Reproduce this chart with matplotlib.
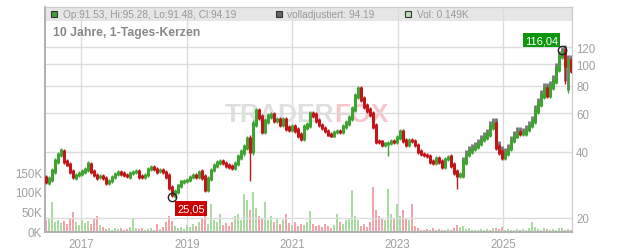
import numpy as np
import pandas as pd
import matplotlib
matplotlib.use("Agg")
import matplotlib.pyplot as plt
import matplotlib.dates as mdates
from matplotlib.patches import Rectangle
from matplotlib.ticker import NullLocator

plt.rcParams['font.family'] = ['Liberation Sans', 'DejaVu Sans']

# Schlusskurse (ca. alle 3 Wochen)
closes = [
    29.2, 30.1, 32.7, 36.3, 39.1, 40.3, 36.3, 35.2, 32.7, 30.7,
    31.4, 32.0, 32.7, 33.4, 35.2, 32.7, 31.4, 30.7, 31.0, 30.4,
    28.9, 29.5, 30.7, 31.7, 32.4, 32.0, 31.4, 31.0, 32.0, 32.4,
    32.7, 31.0, 30.7, 31.4, 33.4, 34.1, 33.4, 32.7, 33.1, 32.4,
    31.0, 27.7, 25.5, 26.3, 28.0, 29.2, 29.5, 29.8, 30.7, 31.4,
    31.0, 32.4, 30.7, 27.1, 30.1, 33.1, 34.8, 35.9, 36.3, 35.6,
    34.8, 34.4, 34.1, 35.6, 37.9, 39.9, 42.1, 45.8, 40.3, 53.6,
    61.4, 57.7, 49.8, 55.3, 58.3, 58.9, 55.9, 55.9, 53.6, 55.9,
    51.4, 50.8, 52.0, 50.3, 47.7, 46.3, 52.0, 53.0, 59.5, 58.9,
    55.9, 53.0, 51.4, 49.8, 48.2, 47.7, 49.3, 49.8, 49.3, 52.5,
    54.2, 57.1, 62.7, 71.9, 77.3, 69.6, 64.7, 62.1, 59.5, 52.5,
    44.8, 44.4, 43.0, 43.5, 43.9, 44.8, 44.4, 46.7, 49.3, 45.3,
    43.0, 45.3, 44.8, 43.0, 40.3, 39.1, 38.7, 38.3, 36.3, 35.9,
    37.5, 36.3, 34.4, 37.1, 37.9, 34.8, 32.4, 31.4, 31.4, 35.9,
    38.7, 40.3, 41.2, 42.1, 43.5, 45.3, 46.7, 48.2, 52.0, 53.6,
    42.1, 39.9, 37.9, 39.1, 41.2, 44.8, 47.2, 49.3, 48.7, 48.7,
    50.3, 52.5, 55.3, 61.4, 66.1, 71.9, 77.3, 72.6, 79.0, 84.1,
    95.4, 108.6, 115.2, 99.4, 103.7, 94.2,
]
first_open = 30.5

# Schwankungsbreite je Kerze in Prozent
spread = [
    5, 6, 6, 6, 5, 6, 5, 5, 5, 4,
    5, 4, 5, 5, 6, 5, 4, 5, 4, 5,
    5, 4, 5, 4, 4, 5, 4, 4, 5, 4,
    4, 5, 4, 4, 5, 4, 4, 5, 4, 4,
    5, 6, 5, 6, 5, 5, 4, 5, 5, 4,
    5, 5, 6, 6, 6, 5, 5, 5, 5, 5,
    5, 5, 5, 5, 6, 6, 7, 7, 8, 8,
    7, 7, 7, 6, 6, 6, 6, 6, 6, 6,
    6, 6, 6, 6, 6, 6, 6, 6, 6, 6,
    6, 5, 5, 5, 5, 5, 5, 5, 5, 5,
    6, 6, 7, 7, 7, 7, 6, 6, 6, 7,
    6, 5, 5, 5, 5, 5, 5, 5, 6, 6,
    5, 5, 5, 5, 5, 5, 5, 5, 5, 5,
    5, 5, 5, 5, 5, 6, 6, 6, 7, 6,
    5, 5, 5, 5, 5, 5, 5, 5, 6, 7,
    6, 6, 6, 6, 5, 5, 5, 5, 5, 5,
    5, 5, 5, 6, 6, 6, 6, 6, 6, 6,
    6, 6, 5, 7, 7, 6,
]

# Ausreisser nach unten (Index, Tief)
spike_idx = [42, 68, 114, 137, 173, 174]
spike_low = [25.05, 29.5, 38.3, 27.1, 81.5, 74.5]
peak_idx = 172
peak_high = 116.04
low_idx = 42
low_value = 25.05

# volladjustiert (grau) ab 2024 leicht darueber
adj_start = 139
adj_factor = 1.03

# Volumen in Tausend
volume_k = [
    30, 35, 76, 25, 30, 22, 28, 20, 32, 50, 25, 18,
    30, 22, 28, 20, 35, 40, 18, 12, 8, 10, 6, 9,
    7, 10, 6, 8, 12, 32, 10, 7, 9, 6, 8, 10,
    6, 20, 8, 12, 25, 40, 28, 15, 10, 12, 8, 18,
    12, 20, 15, 25, 32, 70, 20, 70, 30, 25, 45, 18,
    22, 15, 25, 40, 45, 30, 95, 80, 55, 100, 60, 40,
    35, 75, 30, 40, 25, 35, 20, 30, 45, 22, 18, 25,
    15, 20, 18, 25, 52, 20, 15, 18, 12, 20, 15, 10,
    18, 45, 25, 20, 30, 35, 106, 40, 30, 15, 20, 12,
    25, 112, 55, 40, 35, 30, 107, 45, 35, 70, 40, 55,
    35, 30, 70, 15, 10, 6, 5, 8, 6, 10, 5, 7,
    6, 5, 8, 6, 10, 18, 12, 15, 8, 10, 6, 5,
    6, 8, 5, 7, 6, 9, 10, 8, 12, 6, 8, 5,
    6, 8, 5, 7, 6, 10, 25, 12, 8, 6, 10, 7,
    6, 8, 5, 9, 10, 6, 7, 5,
]

years = [2017, 2019, 2021, 2023, 2025]
price_ticks = [20, 40, 60, 80, 100, 120]
vol_ticks = [0, 50, 100, 150]

dates = pd.date_range('2016-04-30', '2026-04-17', periods=len(closes))
c = np.array(closes)
o = np.array([first_open] + closes[:-1])
up = c >= o
top = np.maximum(o, c)
bot = np.minimum(o, c)
sp = np.array(spread) / 200.0
hi = top * (1 + sp)
lo = bot * (1 - sp)
for i, v in zip(spike_idx, spike_low):
    lo[i] = v
hi[peak_idx] = peak_high

green = '#3fa332'
red = '#c0161c'
col = np.where(up, green, red)
vcol = np.where(up, '#a9dba3', '#f2a3ab')

W, H = 632, 253
L, R, T, B = 45, 572, 8, 233
fig = plt.figure(figsize=(W / 100, H / 100), dpi=100)
ax = fig.add_axes([L / W, (H - B) / H, (R - L) / W, (B - T) / H])


def px(x, y):
    return (x - L) / (R - L), (B - y) / (B - T)


# Kopfzeile
ax.add_patch(Rectangle((0, px(0, 22)[1]), 1, 1 - px(0, 22)[1], transform=ax.transAxes,
                       facecolor='#e6e6e6', edgecolor='none', zorder=0))

# Volumen
ax.bar(dates, volume_k, width=19, color=vcol, zorder=2)
ax.set_ylim(0, (B - T) / 20 * 50)
ax.set_yticks(vol_ticks)
ax.set_yticklabels([f'{v}K' for v in vol_ticks])
ax.set_xlim(pd.Timestamp('2016-04-23'), pd.Timestamp('2026-04-24'))
ax.set_xticks([pd.Timestamp(f'{y}-01-01') for y in years])
ax.xaxis.set_major_formatter(mdates.DateFormatter('%Y'))
ax.grid(axis='x', color='#dcdcdc', lw=1)
ax.set_axisbelow(True)
ax.tick_params(axis='both', length=0, labelsize=8.3, labelcolor='#a0a0a0')
ax.tick_params(axis='x', pad=4)
ax.tick_params(axis='y', pad=2)

# Kurs
ax2 = ax.twinx()
ax2.set_yscale('log')
ax2.set_ylim(17.27, 182.6)
ax2.set_yticks(price_ticks)
ax2.set_yticklabels([str(v) for v in price_ticks])
ax2.yaxis.set_minor_locator(NullLocator())
ax2.grid(axis='y', color='#dcdcdc', lw=1)
ax2.tick_params(axis='y', length=0, labelsize=8.3, labelcolor='#a0a0a0', pad=3)

# Wasserzeichen
wx, wy = px(334, 115)
ax2.text(wx, wy, 'TRADER', transform=ax2.transAxes, ha='right', va='center',
         fontsize=19, fontweight='bold', color='#dfdfdf', zorder=0)
ax2.text(wx, wy, 'FOX', transform=ax2.transAxes, ha='left', va='center',
         fontsize=19, fontweight='bold', color='#f6c6cb', zorder=0)

# volladjustiert
ax2.vlines(dates[adj_start:], lo[adj_start:] * adj_factor, hi[adj_start:] * adj_factor,
           color='#777777', lw=2.0, zorder=2)
# Kerzen
ax2.vlines(dates, lo, hi, color=col, lw=1.0, zorder=3)
ax2.vlines(dates, bot * (1 - sp * 0.6), top * (1 + sp * 0.6), color=col, lw=2.2, zorder=3)

# Hoch / Tief
ax2.plot(dates[peak_idx], peak_high, 'o', ms=6, mfc='none', mec='#222222', mew=1, zorder=5)
ax2.plot(dates[low_idx], low_value, 'o', ms=6, mfc='none', mec='#222222', mew=1, zorder=5)
ax2.annotate('116,04', xy=(dates[peak_idx], peak_high), xytext=(-4, 5), textcoords='offset pixels',
             ha='right', va='bottom', fontsize=8, color='white', zorder=6,
             bbox=dict(boxstyle='square,pad=0.2', fc='#0b960b', ec='none'))
ax2.annotate('25,05', xy=(dates[low_idx], low_value), xytext=(5, -7), textcoords='offset pixels',
             ha='left', va='top', fontsize=8, color='white', zorder=6,
             bbox=dict(boxstyle='square,pad=0.2', fc='#cc0000', ec='none'))

for a in (ax, ax2):
    for s in ('top', 'right'):
        a.spines[s].set_color('#cccccc')
    for s in ('left', 'bottom'):
        a.spines[s].set_color('#b0b0b0')
        a.spines[s].set_linewidth(1.2)

# Legende / Titel
def square(x, y, fc, ec):
    ax2.add_patch(Rectangle(px(x, y + 6), 6 / (R - L), 6 / (B - T), transform=ax2.transAxes,
                            facecolor=fc, edgecolor=ec, lw=0.8, zorder=6))


square(51, 12, '#3fa332', '#333333')
square(276, 12, '#666666', '#333333')
square(405, 12, '#b5e0b0', '#333333')
ty = px(0, 15)[1]
ax2.text(px(63, 0)[0], ty, 'Op:91.53, Hi:95.28, Lo:91.48, Cl:94.19', transform=ax2.transAxes,
         ha='left', va='center', fontsize=7.3, color='#9a9a9a')
ax2.text(px(287, 0)[0], ty, 'volladjustiert: 94.19', transform=ax2.transAxes,
         ha='left', va='center', fontsize=7.3, color='#9a9a9a')
ax2.text(px(417, 0)[0], ty, 'Vol: 0.149K', transform=ax2.transAxes,
         ha='left', va='center', fontsize=7.3, color='#9a9a9a')
ax2.text(px(53, 0)[0], px(0, 33)[1], '10 Jahre, 1-Tages-Kerzen', transform=ax2.transAxes,
         ha='left', va='center', fontsize=8.8, fontweight='bold', color='#888888')

fig.savefig('out.png', dpi=100)
